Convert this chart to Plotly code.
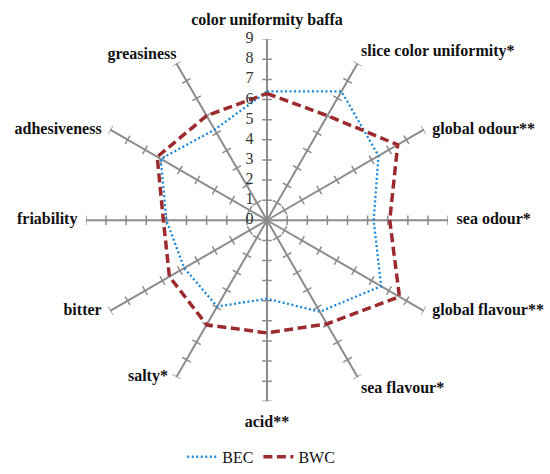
import math
import plotly.graph_objects as go

categories = ["color uniformity baffa", "slice color uniformity*", "global odour**",
              "sea odour*", "global flavour**", "sea flavour*", "acid**", "salty*",
              "bitter", "friability", "adhesiveness", "greasiness"]
bec = [6.4, 7.4, 6.4, 5.3, 6.55, 5.25, 3.9, 4.95, 4.75, 5.0, 6.1, 5.2]
bwc = [6.3, 6.0, 7.5, 6.1, 7.6, 5.95, 5.6, 6.0, 5.6, 5.15, 6.3, 6.0]
radial_ticks = list(range(0, 10))

N = len(categories)
angles = [i * 360.0 / N for i in range(N)]
RMAX = radial_ticks[-1]

GRID = "#8c8c8c"
FONT = "Liberation Serif"

# label placement style per spoke direction (degrees clockwise from top)
LABEL_STYLE = {
    0: ("top center", 15), 30: ("top right", 4), 60: ("middle right", 12),
    90: ("middle right", 12), 120: ("middle right", 12), 150: ("bottom right", 4),
    180: ("bottom center", 20), 210: ("middle left", 12), 240: ("middle left", 12),
    270: ("middle left", 12), 300: ("middle left", 12), 330: ("top left", 0),
}

fig = go.Figure()

# tick marks on every spoke (perpendicular short segments)
h = 0.24
tr, tt = [], []
for a in angles:
    for r in radial_ticks[1:]:
        rr = math.hypot(r, h)
        da = math.degrees(math.atan2(h, r))
        tr += [rr, rr, None]
        tt += [a - da, a + da, None]
fig.add_trace(go.Scatterpolar(r=tr, theta=tt, mode="lines",
                              line=dict(color=GRID, width=1.5),
                              hoverinfo="skip", showlegend=False))

fig.add_trace(go.Scatterpolar(r=bec + bec[:1], theta=angles + angles[:1], mode="lines",
                              name="BEC",
                              line=dict(color="#1a88d8", width=2.3, dash="2px,2.5px")))
fig.add_trace(go.Scatterpolar(r=bwc + bwc[:1], theta=angles + angles[:1], mode="lines",
                              name="BWC",
                              line=dict(color="#9b2b2e", width=3.5, dash="9px,4.5px")))

# category labels at spoke ends
styles = [LABEL_STYLE[int(round(a)) % 360] for a in angles]
fig.add_trace(go.Scatterpolar(
    r=[RMAX] * N, theta=angles, mode="markers+text",
    text=["<b>%s</b>" % c for c in categories],
    textposition=[s[0] for s in styles],
    textfont=dict(family=FONT, size=16, color="#111111"),
    marker=dict(size=[s[1] for s in styles], opacity=0),
    cliponaxis=False, hoverinfo="skip", showlegend=False))

# radial value labels along the top spoke
fig.add_trace(go.Scatterpolar(
    r=radial_ticks, theta=[angles[0]] * len(radial_ticks), mode="markers+text",
    text=[str(v) for v in radial_ticks], textposition="middle left",
    textfont=dict(family=FONT, size=16, color="#333333"),
    marker=dict(size=20, opacity=0),
    cliponaxis=False, hoverinfo="skip", showlegend=False))

fig.update_layout(
    width=550, height=474,
    margin=dict(l=0, r=0, t=0, b=0),
    paper_bgcolor="white",
    plot_bgcolor="white",
    font=dict(family=FONT, color="#111111"),
    polar=dict(
        domain=dict(x=[82 / 550, 452 / 550], y=[1 - 410 / 474, 1 - 40 / 474]),
        bgcolor="white",
        angularaxis=dict(
            type="linear", thetaunit="degrees",
            direction="clockwise", rotation=90,
            tickmode="array", tickvals=angles, showticklabels=False,
            showline=False, showgrid=True, gridcolor=GRID, gridwidth=1.5,
            ticks="",
        ),
        radialaxis=dict(
            range=[0, RMAX], angle=90,
            showticklabels=False, showgrid=False, showline=False, ticks="",
        ),
    ),
    legend=dict(orientation="h", x=0.475, xanchor="center", y=0.052, yanchor="top",
                font=dict(family=FONT, size=16, color="#111111"),
                itemwidth=30, tracegroupgap=0),
    showlegend=True,
)

fig.write_html("out.html", config={"displayModeBar": False},
               post_script="document.body.style.margin='0';")
